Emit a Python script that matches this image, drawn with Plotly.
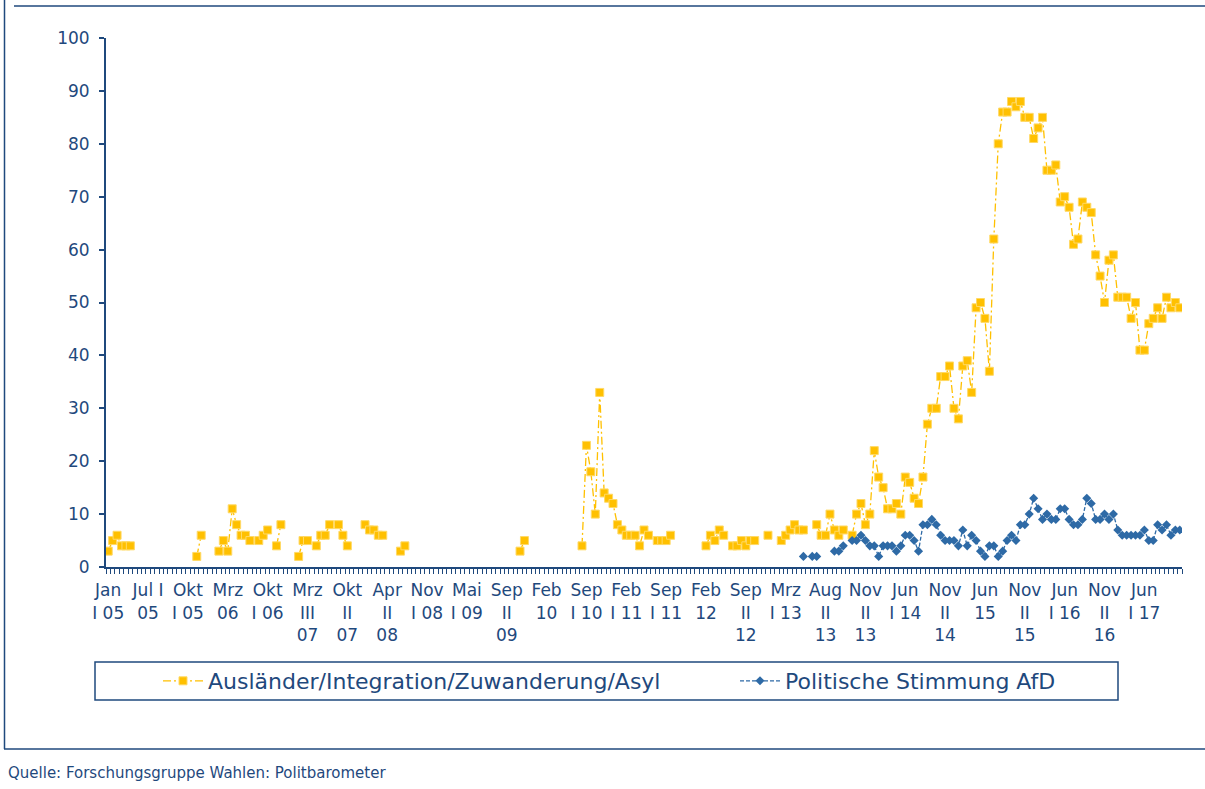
import plotly.graph_objects as go

N_SURVEYS = 243  # number of survey categories on the x axis

# Ausländer/Integration/Zuwanderung/Asyl (%), as (start index, consecutive values)
auslaender_segments = [
    (0, [3, 5, 6, 4, 4, 4]),
    (20, [2, 6]),
    (25, [3, 5, 3, 11, 8, 6, 6, 5]),
    (34, [5, 6, 7]),
    (38, [4, 8]),
    (43, [2, 5, 5]),
    (47, [4, 6, 6, 8]),
    (52, [8, 6, 4]),
    (58, [8, 7, 7, 6, 6]),
    (66, [3, 4]),
    (93, [3, 5]),
    (107, [4, 23, 18, 10, 33, 14, 13, 12, 8, 7, 6, 6, 6, 4, 7, 6]),
    (124, [5, 5, 5, 6]),
    (135, [4, 6, 5, 7, 6]),
    (141, [4, 4, 5, 4, 5, 5]),
    (149, [6]),
    (152, [5, 6, 7, 8, 7, 7]),
    (160, [8, 6, 6, 10, 7, 6, 7]),
    (168, [6, 10, 12, 8, 10, 22, 17, 15, 11, 11, 12, 10, 17, 16, 13, 12, 17, 27, 30, 30,
           36, 36, 38, 30, 28, 38, 39, 33, 49, 50, 47, 37, 62, 80, 86, 86, 88, 87, 88, 85,
           85, 81, 83, 85, 75, 75, 76, 69, 70, 68, 61, 62, 69, 68, 67, 59, 55, 50, 58, 59,
           51, 51, 51, 47, 50, 41, 41, 46, 47, 49, 47, 51, 49, 50, 49]),
]

# Politische Stimmung AfD (%)
afd_segments = [
    (157, [2]),
    (159, [2, 2]),
    (164, [3, 3, 4]),
    (168, [5, 5, 6, 5, 4, 4, 2, 4, 4, 4, 3, 4, 6, 6, 5, 3, 8, 8, 9, 8,
           6, 5, 5, 5, 4, 7, 4, 6, 5, 3, 2, 4, 4, 2, 3, 5, 6, 5, 8, 8,
           10, 13, 11, 9, 10, 9, 9, 11, 11, 9, 8, 8, 9, 13, 12, 9, 9, 10, 9, 10,
           7, 6, 6, 6, 6, 6, 7, 5, 5, 8, 7, 8, 6, 7, 7]),
]

# labelled categories (every 9th survey)
tick_positions = list(range(0, 235, 9))
tick_labels = ["Jan<br>I 05", "Jul I<br>05", "Okt<br>I 05", "Mrz<br>06", "Okt<br>I 06",
               "Mrz<br>III<br>07", "Okt<br>II<br>07", "Apr<br>II<br>08", "Nov<br>I 08",
               "Mai<br>I 09", "Sep<br>II<br>09", "Feb<br>10", "Sep<br>I 10", "Feb<br>I 11",
               "Sep<br>I 11", "Feb<br>12", "Sep<br>II<br>12", "Mrz<br>I 13", "Aug<br>II<br>13",
               "Nov<br>II<br>13", "Jun<br>I 14", "Nov<br>II<br>14", "Jun<br>15",
               "Nov<br>II<br>15", "Jun<br>I 16", "Nov<br>II<br>16", "Jun<br>I 17"]


def expand(segments):
    arr = [None] * N_SURVEYS
    for start, vals in segments:
        for k, v in enumerate(vals):
            arr[start + k] = v
    return arr


x_idx = list(range(N_SURVEYS))
auslaender = expand(auslaender_segments)
afd = expand(afd_segments)

NAVY = "#1F497D"
YELLOW = "#FFC000"
BLUE = "#2E6AA6"
FONT = "DejaVu Sans"

fig = go.Figure()
fig.add_trace(go.Scatter(
    x=x_idx, y=auslaender, name="Ausländer/Integration/Zuwanderung/Asyl",
    mode="lines+markers", connectgaps=False, legend="legend",
    line=dict(color=YELLOW, width=1.3, dash="8px,3px,2px,3px"),
    marker=dict(symbol="square", size=8, color=YELLOW, line=dict(color="#FFD966", width=1)),
))
fig.add_trace(go.Scatter(
    x=x_idx, y=afd, name="Politische Stimmung AfD",
    mode="lines+markers", connectgaps=False, legend="legend2",
    line=dict(color=BLUE, width=1.3, dash="4px,2px"),
    marker=dict(symbol="diamond", size=7, color=BLUE),
))

W, H = 1205, 789
L, R, T, B = 106, 23, 38, 222
pw, ph = W - L - R, H - T - B


def px(xp):
    return (xp - L) / pw


def py(yp):
    return (H - B - yp) / ph


line_style = dict(color=NAVY, width=1.5)
shapes = [
    # legend box
    dict(type="rect", xref="paper", yref="paper", x0=px(95), x1=px(1118), y0=py(700), y1=py(662),
         line=dict(color=NAVY, width=1.5)),
    # top border
    dict(type="line", xref="paper", yref="paper", x0=px(14), x1=px(1205), y0=py(6), y1=py(6), line=line_style),
    # left border
    dict(type="line", xref="paper", yref="paper", x0=px(4.5), x1=px(4.5), y0=py(0), y1=py(749), line=line_style),
    # bottom border
    dict(type="line", xref="paper", yref="paper", x0=px(4), x1=px(1205), y0=py(749), y1=py(749), line=line_style),
]

legend_common = dict(orientation="h", xanchor="left", yanchor="middle", y=py(681),
                     font=dict(size=22, family=FONT, color=NAVY), bgcolor="rgba(0,0,0,0)",
                     itemwidth=40)

fig.update_layout(
    width=W, height=H,
    margin=dict(l=L, r=R, t=T, b=B),
    paper_bgcolor="white", plot_bgcolor="white",
    font=dict(family=FONT, color=NAVY, size=17),
    showlegend=True,
    legend=dict(x=px(158), **legend_common),
    legend2=dict(x=px(735), **legend_common),
    shapes=shapes,
    annotations=[dict(text="Quelle: Forschungsgruppe Wahlen: Politbarometer", xref="paper", yref="paper",
                      x=px(6), y=py(773), xanchor="left", yanchor="middle", showarrow=False,
                      font=dict(size=15, family=FONT, color=NAVY))],
)

fig.update_xaxes(
    range=[-0.5, N_SURVEYS - 0.5], tickmode="array", tickvals=tick_positions, ticktext=tick_labels,
    ticks="", showline=True, linecolor=NAVY, linewidth=2, showgrid=False, zeroline=False,
    tickfont=dict(size=17, family=FONT, color=NAVY), tickangle=0, ticklabelstandoff=7,
    minor=dict(tick0=-0.5, dtick=1, ticks="outside", ticklen=5, tickcolor=NAVY, tickwidth=1, showgrid=False),
)
fig.update_yaxes(
    range=[0, 100], tickmode="array", tickvals=list(range(0, 101, 10)),
    ticks="outside", ticklen=5, tickcolor=NAVY, tickwidth=1.5,
    showline=True, linecolor=NAVY, linewidth=2, showgrid=False, zeroline=False,
    tickfont=dict(size=17, family=FONT, color=NAVY), ticklabelstandoff=6,
)

fig.write_html("out.html", config={"displayModeBar": False},
               post_script="document.body.style.margin='0';document.body.style.padding='0';")
